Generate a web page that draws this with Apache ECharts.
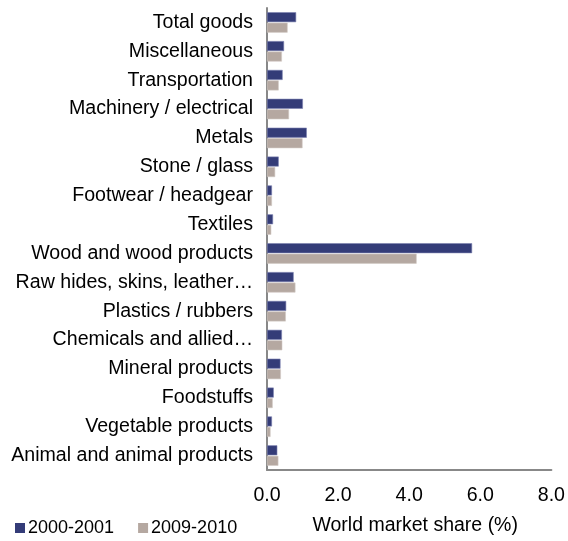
<!DOCTYPE html>
<html>
<head>
<meta charset="utf-8">
<script src="https://cdn.jsdelivr.net/npm/echarts@6/dist/echarts.min.js"></script>
<style>html,body{margin:0;padding:0;background:#fff}#c{width:568px;height:541px}</style>
</head>
<body>
<div id="c"></div>
<script>
var categories = ["Total goods","Miscellaneous","Transportation","Machinery / electrical","Metals","Stone / glass","Footwear / headgear","Textiles","Wood and wood products","Raw hides, skins, leather\u2026","Plastics / rubbers","Chemicals and allied\u2026","Mineral products","Foodstuffs","Vegetable products","Animal and animal products"];
var seriesNames = ["2000-2001","2009-2010"];
var values2000 = [0.82,0.48,0.44,1.01,1.12,0.33,0.14,0.17,5.77,0.75,0.54,0.42,0.38,0.19,0.14,0.29];
var values2009 = [0.58,0.42,0.33,0.62,1.00,0.23,0.14,0.12,4.21,0.80,0.53,0.43,0.39,0.16,0.10,0.32];
var xTicks = {min:0, max:8, interval:2};

var chart = echarts.init(document.getElementById('c'), null, {renderer:'canvas'});
var font = '"Liberation Sans", Arial, sans-serif';
chart.setOption({
  animation:false,
  textStyle:{fontFamily:font},
  grid:{left:267, right:16, top:8, bottom:71, containLabel:false},
  legend:{
    left:15, top:519, padding:0, itemWidth:10, itemHeight:10, itemGap:24, icon:'rect',
    itemStyle:{borderWidth:0},
    textStyle:{fontSize:18, color:'#000', fontFamily:font, padding:[0,0,0,-2]},
    data:seriesNames
  },
  xAxis:{
    type:'value', min:xTicks.min, max:xTicks.max, interval:xTicks.interval,
    axisLine:{show:true, lineStyle:{color:'#888888', width:2}},
    axisTick:{show:false},
    splitLine:{show:false},
    axisLabel:{fontSize:19.6, color:'#000', margin:16, fontFamily:font, formatter:function(v){return v.toFixed(1);}},
    name:'World market share (%)', nameLocation:'middle', nameGap:46,
    nameTextStyle:{fontSize:19.5, color:'#000', fontFamily:font, padding:[0,0,0,12]}
  },
  yAxis:{
    type:'category', data:categories, inverse:true,
    axisLine:{show:true, lineStyle:{color:'#888888', width:2}},
    axisTick:{show:false},
    axisLabel:{fontSize:19.6, color:'#000', margin:14, fontFamily:font}
  },
  series:[
    {name:seriesNames[0], type:'bar', data:values2000, barWidth:10, barGap:'5%',
     itemStyle:{color:'#343C78', borderColor:'#7C82B0', borderWidth:0.6}},
    {name:seriesNames[1], type:'bar', data:values2009, barWidth:10,
     itemStyle:{color:'#B5A8A1', borderColor:'#D2C9C4', borderWidth:0.6}}
  ]
});
</script>
</body>
</html>
